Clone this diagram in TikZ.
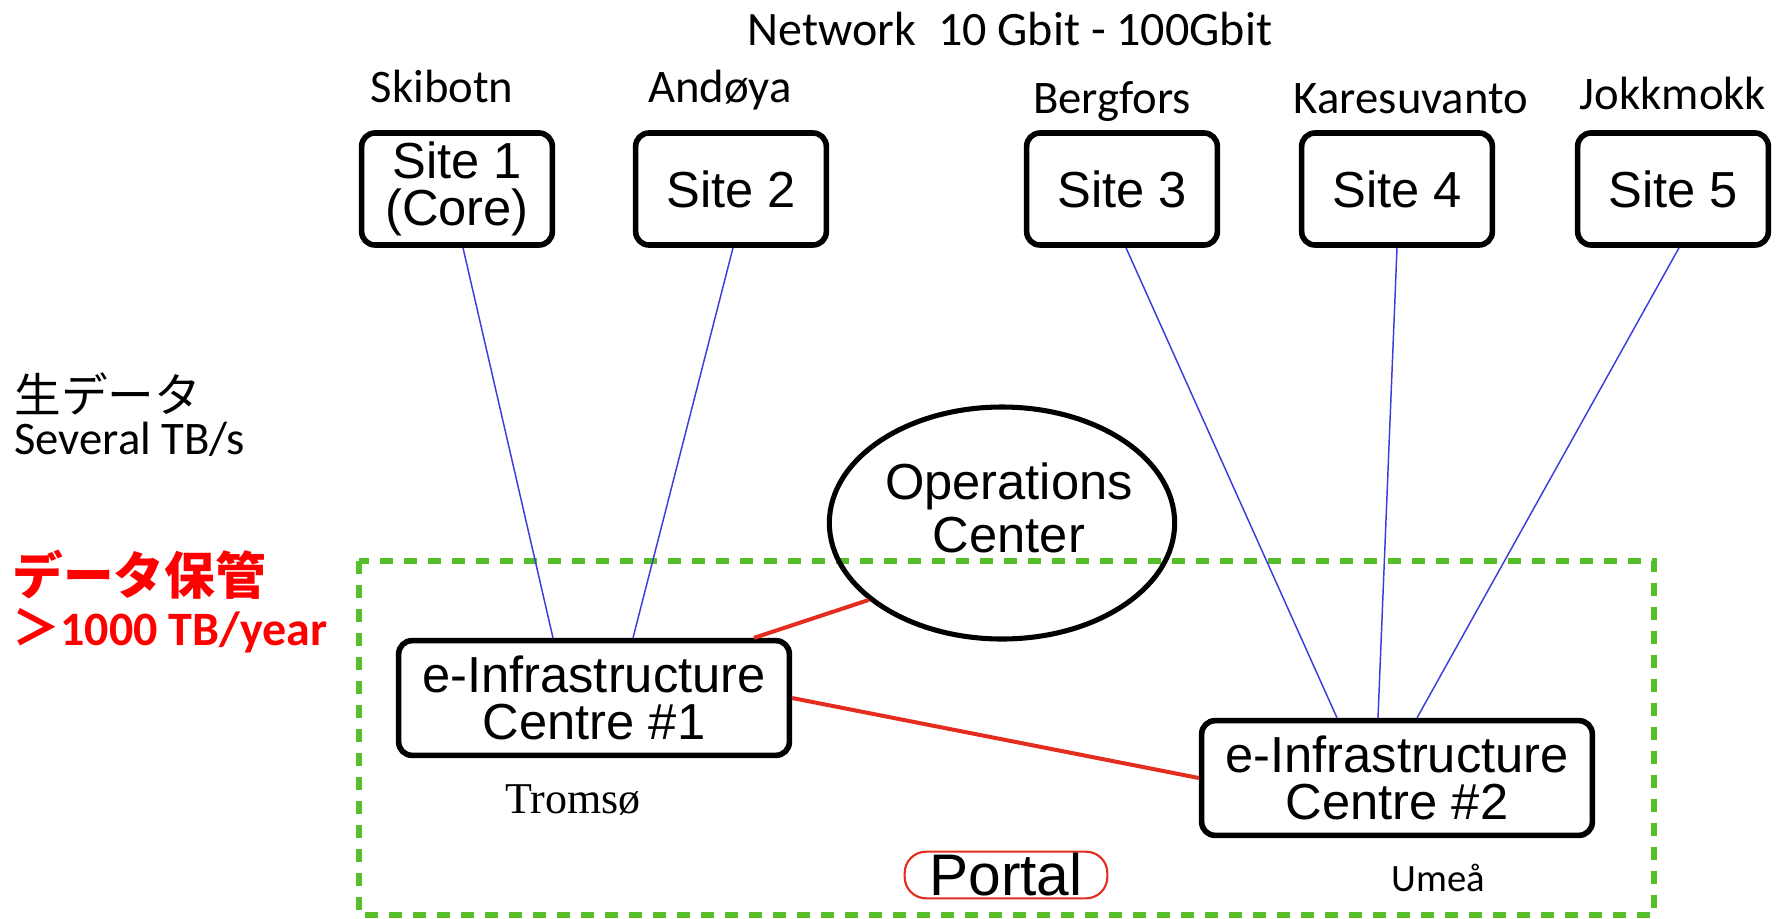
\documentclass[tikz,border=0pt]{standalone}
\usepackage{fontspec}
\setmainfont{Liberation Sans}
\newfontfamily\calibri{Carlito}
\newfontfamily\timesfont{Liberation Serif}
\newfontfamily\jpfont{Noto Sans CJK JP}
\usetikzlibrary{calc,shapes.geometric}

\definecolor{linkblue}{RGB}{60,60,220}
\definecolor{linkred}{RGB}{228,45,30}
\definecolor{zonegreen}{RGB}{85,190,40}

\tikzset{every picture/.style={line width=0.75pt}}
\tikzset{
  sitebox/.style={draw, rounded corners=10pt, line width=4.2pt, minimum width=143pt,
    minimum height=84pt, inner sep=0pt, align=center, font=\fontsize{38}{35}\selectfont},
  centrebox/.style={draw, rounded corners=10pt, line width=4.2pt, minimum width=293pt,
    minimum height=86pt, inner sep=0pt, align=center, font=\fontsize{38}{35}\selectfont},
  opsellipse/.style={draw, ellipse, line width=3.8pt, minimum width=259pt,
    minimum height=174pt, inner sep=0pt},
  opstext/.style={inner sep=0pt, align=center, font=\fontsize{38}{40}\selectfont},
  portalbox/.style={draw=linkred, rounded corners=16pt, line width=1.6pt, minimum width=152pt,
    minimum height=35pt, inner sep=0pt, font=\fontsize{44}{44}\selectfont},
  place/.style={font=\calibri\fontsize{35}{40}\selectfont, inner sep=0pt},
  uplink/.style={draw=linkblue, line width=1.1pt},
  corelink/.style={draw=linkred, line width=3pt},
  zone/.style={draw=zonegreen, line width=4pt, dash pattern=on 10pt off 8pt},
}

\begin{document}
\begin{tikzpicture}[x=0.75pt,y=0.75pt,yscale=-1,xscale=1]
\useasboundingbox (0,0) rectangle (1780,918);

% storage zone
\draw[zone] (359,561) rectangle (1654,915);

% Sites
\node[sitebox] (s1) at (457,189) {Site 1\\(Core)};
\node[sitebox] (s2) at (731,189) {Site 2};
\node[sitebox] (s3) at (1122,189) {Site 3};
\node[sitebox] (s4) at (1397,189) {Site 4};
\node[sitebox] (s5) at (1673,189) {Site 5};

% Centres
\node[opsellipse] (ops) at (1002,523) {};
\node[opstext] (opslabel) at ($(ops)+(7,-15)$) {Operations\\Center};
\node[centrebox] (e1) at (594,698) {e-Infrastructure\\Centre \#1};
\node[centrebox] (e2) at (1397,778) {e-Infrastructure\\Centre \#2};
\node[portalbox] (portal) at (1006,875) {Portal};

% Text Node
\node[place, anchor=base, font=\calibri\fontsize{36}{40}\selectfont] (net) at (1010,45) {Network\ \ 10 Gbit - 100Gbit};
\node[place, anchor=base] (skibotn) at (442,102) {Skibotn};
\node[place, anchor=base] (andoya) at (720,102) {Andøya};
\node[place, anchor=base] (bergfors) at (1112,113) {Bergfors};
\node[place, anchor=base] (karesuvanto) at (1411,113) {Karesuvanto};
\node[place, anchor=base] (jokkmokk) at (1673,109) {Jokkmokk};
\node[place, anchor=base, font=\calibri\fontsize{29}{32}\selectfont] (umea) at (1438,891) {Umeå};
\node[anchor=base, inner sep=0pt, font=\timesfont\fontsize{33}{36}\selectfont] (tromso) at (573,813) {Tromsø};

\node[anchor=base west, inner sep=0pt, font=\jpfont\fontsize{35}{40}\selectfont] (raw) at (14,412) {生データ};
\node[place, anchor=base west] (rate) at (14,454) {Several TB/s};
\node[anchor=base west, inner sep=0pt, text=red, font=\jpfont\bfseries\fontsize{38}{40}\selectfont] (keep) at (12,594) {データ保管};
\node[anchor=base west, inner sep=0pt, text=red, font=\calibri\bfseries\fontsize{36}{40}\selectfont] (volume) at (12,645) {{\jpfont ＞}1000 TB/year};

% Connection
\draw[uplink] ($(s1.south)+(6,0)$) -- ($(e1.north)+(-41,0)$);
\draw[uplink] ($(s2.south)+(2,0)$) -- ($(e1.north)+(39,0)$);
\draw[uplink] ($(s3.south)+(4,0)$) -- ($(e2.north)+(-60,0)$);
\draw[uplink] (s4.south) -- ($(e2.north)+(-19,0)$);
\draw[uplink] ($(s5.south)+(6,0)$) -- ($(e2.north)+(20,0)$);
% Connection
\draw[corelink] ($(e1.north)+(160,0)$) -- (ops.210);
\draw[corelink] (e1.east) -- (e2.west);

\end{tikzpicture}
\end{document}
